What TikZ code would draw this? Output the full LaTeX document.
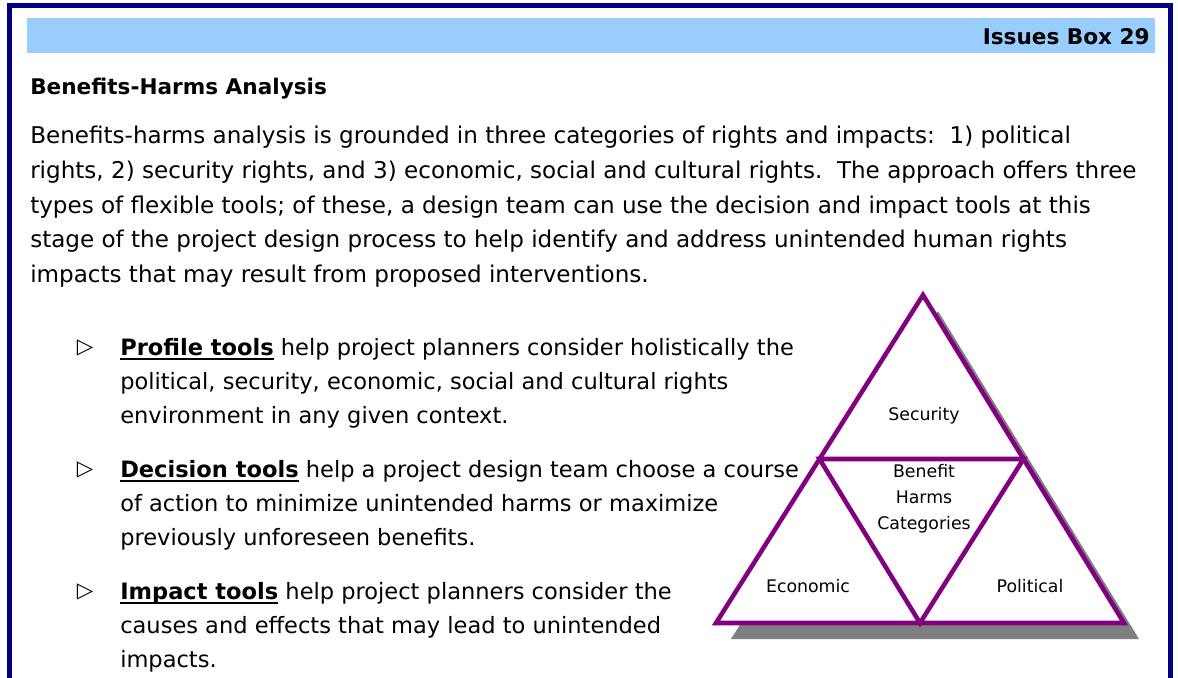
\documentclass[tikz,border=0pt]{standalone}
\usepackage{fontspec}
\setmainfont{DejaVu Sans}
\usetikzlibrary{positioning,calc}
\definecolor{boxnavy}{HTML}{000080}
\definecolor{barblue}{HTML}{99CCFF}
\definecolor{tripurple}{HTML}{800080}
\definecolor{shadegray}{HTML}{808080}
% bold tool name with a heavy underline
\newcommand{\toolname}[1]{\textbf{\setbox0\hbox{#1}\rlap{\rule[-3.5pt]{\wd0}{1.5pt}}\box0}}
\begin{document}
\begin{tikzpicture}[x=0.75pt,y=-0.75pt,line join=miter,
	bodytext/.style={inner sep=0pt,anchor=north west,align=left,font=\fontsize{17.3}{26}\selectfont},
	itemtext/.style={bodytext,font=\fontsize{16.9}{25.5}\selectfont},
	bulletmark/.style={inner sep=0pt,font=\fontsize{16}{16}\selectfont},
	trilabel/.style={inner sep=1pt,align=center,font=\fontsize{13}{19.5}\selectfont}]
	\useasboundingbox (0,0) rectangle (1178,678);
	% frame and title bar
	\draw[boxnavy,line width=3.75pt] (9.5,700) -- (9.5,5.5) -- (1170.5,5.5) -- (1170.5,700);
	\fill[barblue] (27,18) rectangle (1155,53);
	\node[inner sep=0pt,anchor=east,font=\fontsize{16.2}{19}\bfseries] (boxno) at (1150,37) {Issues Box 29};
	\node[inner sep=0pt,anchor=west,font=\fontsize{16.2}{19}\bfseries] (heading) at (30,89) {Benefits-Harms Analysis};
	\node[bodytext] (intro) at (30,126) {Benefits-harms analysis is grounded in three categories of rights and impacts:\ \ 1) political\\
	rights, 2) security rights, and 3) economic, social and cultural rights.\ \ The approach offers three\\
	types of flexible tools; of these, a design team can use the decision and impact tools at this\\
	stage of the project design process to help identify and address unintended human rights\\
	impacts that may result from proposed interventions.};
	% the three tools
	\node[itemtext] (profile) at (120,338) {\toolname{Profile tools} help project planners consider holistically the\\
	political, security, economic, social and cultural rights\\
	environment in any given context.};
	\node[itemtext] (decision) at (120,460) {\toolname{Decision tools} help a project design team choose a course\\
	of action to minimize unintended harms or maximize\\
	previously unforeseen benefits.};
	\node[itemtext] (impact) at (120,582) {\toolname{Impact tools} help project planners consider the\\
	causes and effects that may lead to unintended\\
	impacts.};
	\foreach \y/\n in {348/profilemark,470/decisionmark,592/impactmark}
		\node[bulletmark] (\n) at (85,\y) {▷};
	% triangle of rights
	\coordinate (top) at (923,295);
	\coordinate (left) at (716,623);
	\coordinate (right) at (1124,623);
	\coordinate (midleft) at ($(top)!0.5!(left)$);
	\coordinate (midright) at ($(top)!0.5!(right)$);
	\coordinate (midbottom) at ($(left)!0.5!(right)$);
	\fill[shadegray] ($(top)+(15,16)$) -- ($(left)+(15,16)$) -- ($(right)+(15,16)$) -- cycle;
	\filldraw[fill=white,draw=tripurple,line width=3.4pt] (top) -- (left) -- (right) -- cycle;
	\draw[tripurple,line width=3.4pt] (midleft) -- (midright) -- (midbottom) -- cycle;
	\node[trilabel] (security) at (924,416) {Security};
	\node[trilabel,fill=white] (categories) at (924,499) {Benefit\\ Harms\\ Categories};
	\node[trilabel] (economic) at (808,586) {Economic};
	\node[trilabel] (political) at (1030,586) {Political};
\end{tikzpicture}
\end{document}
